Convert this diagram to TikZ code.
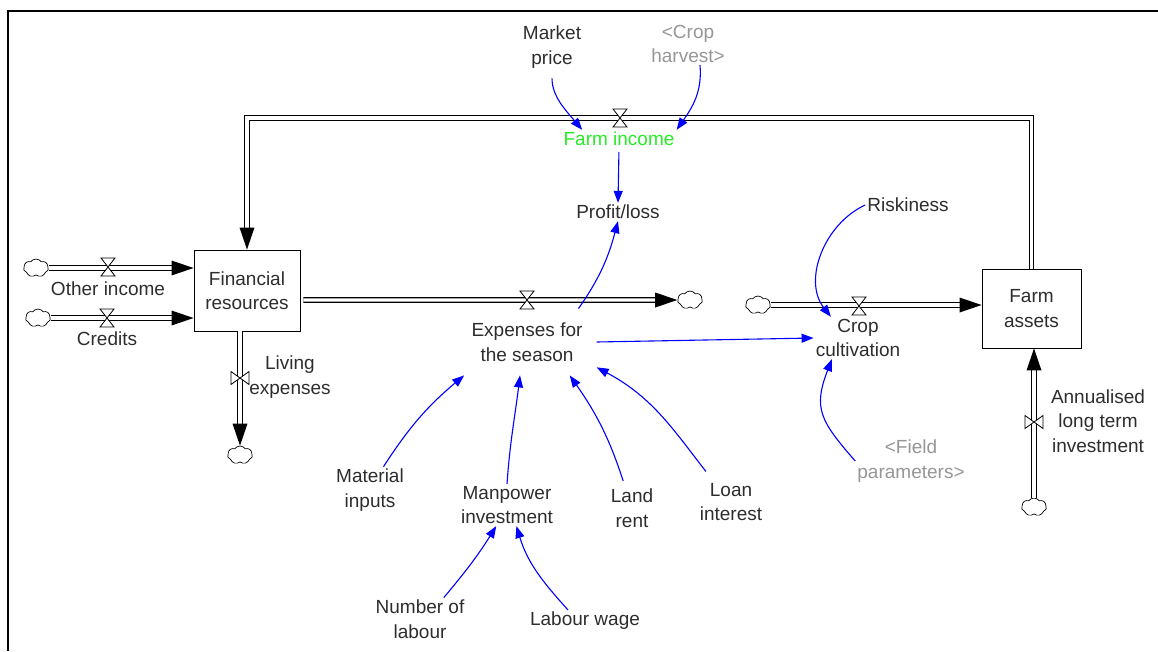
\documentclass[tikz,border=0pt]{standalone}
\usepackage{fontspec}
\setmainfont{Liberation Sans}
\usetikzlibrary{arrows.meta,shapes.symbols,positioning,calc,decorations.markings}

\definecolor{linkblue}{RGB}{0,0,255}
\definecolor{flowgreen}{RGB}{40,235,40}
\definecolor{ghostgray}{RGB}{150,150,150}
\definecolor{textdark}{RGB}{45,45,45}

\tikzset{
    hvalve/.pic={\draw[fill=white, line width=0.8pt] (-7,-9) -- (7,-9) -- (-7,9) -- (7,9) -- cycle;},
    vvalve/.pic={\draw[fill=white, line width=0.8pt] (-9,-6.5) -- (-9,6.5) -- (9,-6.5) -- (9,6.5) -- cycle;}
}

\begin{document}
\begin{tikzpicture}[
    x=1pt, y=-1pt,
    font=\fontsize{19pt}{24.5pt}\selectfont,
    stock/.style={rectangle, draw, line width=0.9pt, fill=white, align=center, text=textdark},
    var/.style={align=center, inner sep=2pt, text=textdark},
    ghost/.style={var, text=ghostgray},
    source/.style={cloud, cloud puffs=7, cloud puff arc=110, aspect=1.4, draw, fill=white, line width=0.7pt, minimum width=25pt, minimum height=18pt, inner sep=0pt},
    pipe/.style={draw=white, line width=3.4pt, preaction={draw=black, line width=5.6pt}},
    flowtip/.style={shorten >=10pt, postaction={decorate, decoration={markings,
        mark=at position 1 with {\fill[black] (0pt,0pt) -- (-22pt,7.5pt) -- (-22pt,-7.5pt) -- cycle;}}}},
    link/.style={linkblue, line width=1.1pt, -{Triangle[length=12pt,width=9pt]}}
]
    \useasboundingbox (0,0) rectangle (1158,651);
    % Frame
    \draw[line width=2.5pt] (8,651) -- (8,11) -- (1158,11);

    % Stocks
    \node[stock, minimum width=106pt, minimum height=81pt] (fr) at (247,290.5) {Financial\\resources};
    \node[stock, minimum width=99pt, minimum height=79pt] (fa) at (1031.5,308.5) {Farm\\assets};

    % Sources and sinks
    \node[source] (coi) at (36,268) {};
    \node[source] (ccr) at (38,318) {};
    \node[source] (cle) at (240,455) {};
    \node[source] (cex) at (690,300) {};
    \node[source] (ccc) at (758,305) {};
    \node[source] (cai) at (1034,507) {};

    % Flows
    \coordinate (bend) at (247,118);
    \draw[pipe, flowtip] (fa.north) |- (bend) -- (fr.north);
    \draw[pipe, flowtip] (coi.east) -- (coi.east -| fr.west);
    \draw[pipe, flowtip] (ccr.east) -- (ccr.east -| fr.west);
    \draw[pipe, flowtip] (fr.south -| cle) -- (cle.north);
    \draw[pipe, flowtip, shorten <=3pt] (fr.east |- cex) -- (cex.west);
    \draw[pipe, flowtip] (ccc.east) -- (ccc.east -| fa.west);
    \draw[pipe, flowtip] (cai.north) -- (cai |- fa.south);

    % Valves
    \pic at (620,118) {hvalve};
    \pic at (108,267) {hvalve};
    \pic at (107,318) {hvalve};
    \pic at (240,378) {vvalve};
    \pic at (527,300) {hvalve};
    \pic at (859,306) {hvalve};
    \pic at (1034,422) {vvalve};

    % Flow names
    \node[var, text=flowgreen] (fi) at (619,139) {Farm income};
    \node[var] (oi) at (108,289) {Other income};
    \node[var] (cr) at (107,339) {Credits};
    \node[var] (le) at (290,377) {Living\\expenses};
    \node[var, inner xsep=14pt, inner ysep=14pt] (ex) at (527,342) {Expenses for\\the season};
    \node[var] (cc) at (858,338) {Crop\\cultivation};
    \node[var] (ai) at (1098,421) {Annualised\\long term\\investment};

    % Auxiliaries
    \node[var] (mp) at (552,47) {Market\\price};
    \node[ghost] (ch) at (688,44) {<Crop\\harvest>};
    \node[var] (pl) at (618,212) {Profit/loss};
    \node[var] (rk) at (908,205) {Riskiness};
    \node[ghost] (fp) at (911,461) {<Field\\parameters>};
    \node[var] (mi) at (370,490) {Material\\inputs};
    \node[var] (mw) at (507,505) {Manpower\\investment};
    \node[var] (lr) at (632,508) {Land\\rent};
    \node[var] (li) at (731,502) {Loan\\interest};
    \node[var] (nl) at (420,619) {Number of\\labour};
    \node[var] (lw) at (585,621) {Labour wage};

    % Links
    \draw[link, shorten <=8pt] (mp.south) to[out=-90, in=130] (fi.166);
    \draw[link] ([xshift=12pt]ch.south) to[out=-85, in=55] (fi.north east);
    \draw[link, shorten <=4pt] (fi.south) -- (pl.north);
    \draw[link] (ex.33) to[out=55, in=-105] (pl.south);
    \draw[link] (ex.east) -- (cc.west);
    \draw[link] (rk.west) to[out=205, in=128] (cc.142);
    \draw[link] (fp.west) to[out=131, in=-111, looseness=1.3] (cc.219);
    \draw[link] (mi.60) to[out=57, in=-140] (ex.208);
    \draw[link] (mw.north) to[out=86, in=-97] ([xshift=-7pt]ex.south);
    \draw[link, shorten <=6pt] ([xshift=-7pt]lr.north) to[out=108, in=-55] (ex.-38);
    \draw[link, shorten <=12pt] (li.130) to[out=128, in=-28] (ex.-20);
    \draw[link] (nl.42) to[out=50, in=-122] (mw.-117);
    \draw[link] (lw.147) to[out=132, in=-73] (mw.-66);
\end{tikzpicture}
\end{document}
